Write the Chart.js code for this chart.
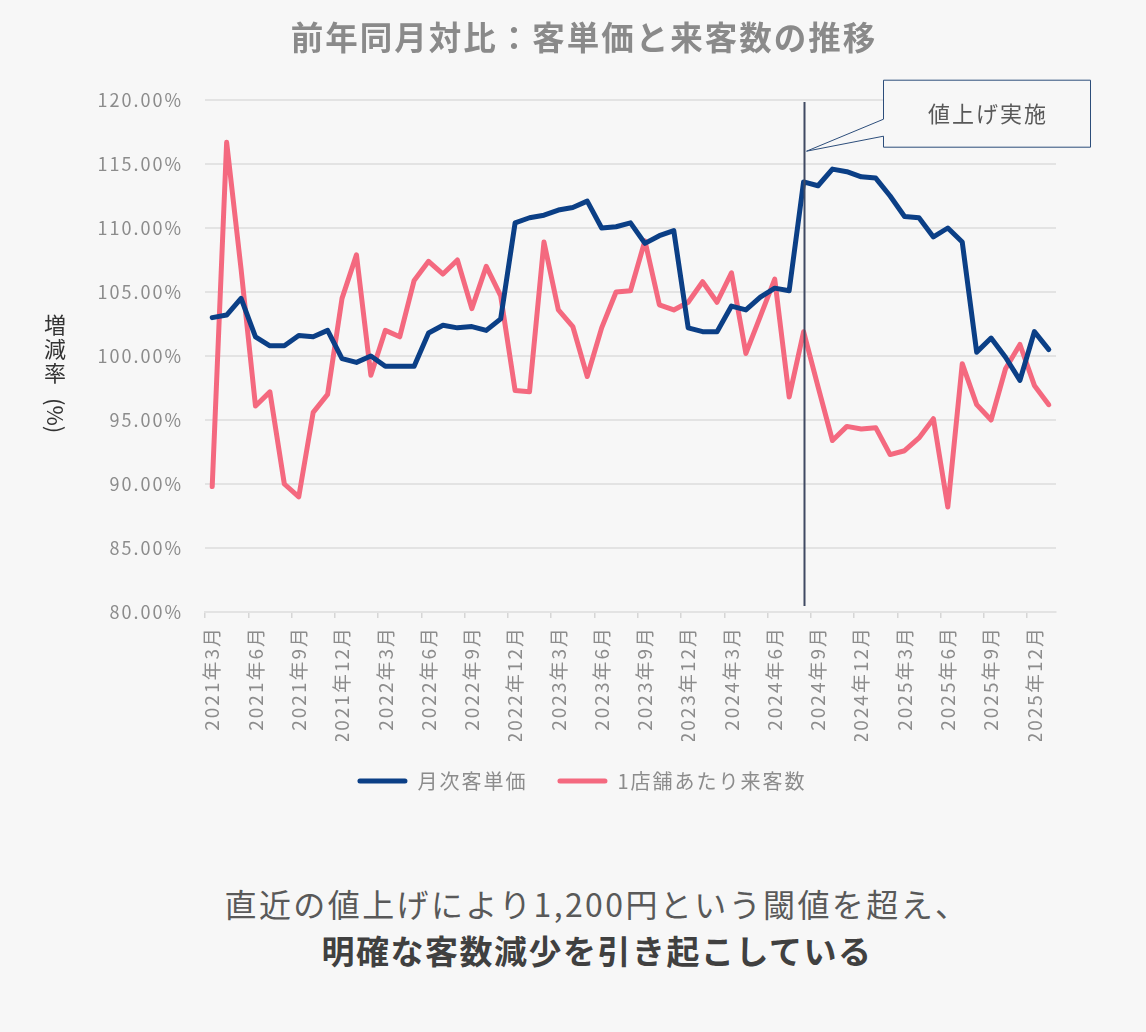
<!DOCTYPE html>
<html lang="ja">
<head>
<meta charset="utf-8">
<title>前年同月対比：客単価と来客数の推移</title>
<script src="https://cdn.jsdelivr.net/npm/chart.js@4.4.1/dist/chart.umd.min.js"></script>
<style>
  html, body { margin: 0; padding: 0; background: #f7f7f7; }
  body { width: 1146px; height: 1032px; position: relative; overflow: hidden;
         font-family: 'Noto Sans CJK JP', 'Noto Sans', sans-serif; }
  #chartBox { position: absolute; left: 0; top: 0; width: 1146px; height: 811px; }
  #summary { position: absolute; left: 0; top: 880px; width: 1146px; box-sizing: border-box;
             padding-left: 48px; text-align: center; font-size: 32px; line-height: 47px;
             color: #595959; letter-spacing: 2.4px; }
  #summary b { color: #404040; font-size: 33px; letter-spacing: 1.5px; }
</style>
</head>
<body>
<div id="chartBox"><canvas id="trendChart"></canvas></div>
<div id="summary">直近の値上げにより1,200円という閾値を超え、<br><b>明確な客数減少を引き起こしている</b></div>

<script>
// --- データ ---
const months = [
  '2021年3月', '2021年4月', '2021年5月', '2021年6月', '2021年7月', '2021年8月', '2021年9月', '2021年10月', '2021年11月', '2021年12月',
  '2022年1月', '2022年2月', '2022年3月', '2022年4月', '2022年5月', '2022年6月', '2022年7月', '2022年8月', '2022年9月', '2022年10月', '2022年11月', '2022年12月',
  '2023年1月', '2023年2月', '2023年3月', '2023年4月', '2023年5月', '2023年6月', '2023年7月', '2023年8月', '2023年9月', '2023年10月', '2023年11月', '2023年12月',
  '2024年1月', '2024年2月', '2024年3月', '2024年4月', '2024年5月', '2024年6月', '2024年7月', '2024年8月', '2024年9月', '2024年10月', '2024年11月', '2024年12月',
  '2025年1月', '2025年2月', '2025年3月', '2025年4月', '2025年5月', '2025年6月', '2025年7月', '2025年8月', '2025年9月', '2025年10月', '2025年11月', '2025年12月',
  '2026年1月'
];

// 月次客単価（前年同月比 %）
const unitPrice = [
  103.0, 103.2, 104.5, 101.5, 100.8, 100.8, 101.6, 101.5, 102.0, 99.8,
  99.5, 100.0, 99.2, 99.2, 99.2, 101.8, 102.4, 102.2, 102.3, 102.0,
  102.9, 110.4, 110.8, 111.0, 111.4, 111.6, 112.1, 110.0, 110.1, 110.4,
  108.8, 109.4, 109.8, 102.2, 101.9, 101.9, 103.9, 103.6, 104.6, 105.3,
  105.1, 113.6, 113.3, 114.6, 114.4, 114.0, 113.9, 112.5, 110.9, 110.8,
  109.3, 110.0, 108.9, 100.3, 101.4, 99.9, 98.1, 101.9, 100.5
];

// 1店舗あたり来客数（前年同月比 %）
const visitors = [
  89.8, 116.7, 106.8, 96.1, 97.2, 90.0, 89.0, 95.6, 97.0, 104.5,
  107.9, 98.5, 102.0, 101.5, 105.9, 107.4, 106.4, 107.5, 103.7, 107.0,
  104.7, 97.3, 97.2, 108.9, 103.6, 102.3, 98.4, 102.2, 105.0, 105.1,
  109.0, 104.0, 103.6, 104.2, 105.8, 104.2, 106.5, 100.2, 103.1, 106.0,
  96.8, 101.9, 97.6, 93.4, 94.5, 94.3, 94.4, 92.3, 92.6, 93.6,
  95.1, 88.2, 99.4, 96.2, 95.0, 99.0, 100.9, 97.7, 96.2
];

const yTicks = [80, 85, 90, 95, 100, 105, 110, 115, 120];
const priceUpMonth = '2024年8月';
const priceUpLabel = '値上げ実施';

const seriesNames = ['月次客単価', '1店舗あたり来客数'];
const seriesColors = ['#0b3f86', '#f4697f'];

// --- 描画 ---
Chart.defaults.font.family = "'Noto Sans CJK JP', 'Noto Sans', sans-serif";

const GRID = '#e3e3e3';
const TICK_TEXT = '#8c8c8c';

// 元図の文字間隔に合わせる（canvasのサイズ変更で状態が消えるので毎回設定）
const spacingPlugin = {
  id: 'spacing',
  beforeUpdate(chart) { chart.ctx.letterSpacing = '2px'; },
  afterLayout(chart) {
    // 凡例を元図と同じ位置（少し右寄り）へ
    chart.legend.left += 9;
    chart.legend.right += 9;
  },
  beforeDraw(chart) { chart.ctx.letterSpacing = '2px'; }
};

// タイトル・縦書きの軸タイトル・値上げ線と吹き出し
const overlayPlugin = {
  id: 'overlay',
  afterDatasetsDraw(chart) {
    const ctx = chart.ctx;
    const xs = chart.scales.x;
    const ys = chart.scales.y;
    const area = chart.chartArea;
    const idx = months.indexOf(priceUpMonth);
    const lx = Math.round(xs.getPixelForValue(idx)) + 0.5;

    ctx.save();
    // 値上げ実施の縦線
    ctx.strokeStyle = '#404a63';
    ctx.lineWidth = 2;
    ctx.beginPath();
    ctx.moveTo(lx, area.top + 2);
    ctx.lineTo(lx, area.bottom - 6);
    ctx.stroke();

    // 吹き出し
    const tipX = lx + 2;
    const tipY = ys.getPixelForValue(116);
    const bx = tipX + 77, by = tipY - 71, bw = 207, bh = 67;
    ctx.beginPath();
    ctx.moveTo(bx, by);
    ctx.lineTo(bx + bw, by);
    ctx.lineTo(bx + bw, by + bh);
    ctx.lineTo(bx, by + bh);
    ctx.lineTo(bx, by + 56);
    ctx.lineTo(tipX, tipY);
    ctx.lineTo(bx, by + 39);
    ctx.closePath();
    ctx.fillStyle = '#f7f7f7';
    ctx.fill();
    ctx.strokeStyle = '#2c4d7a';
    ctx.lineWidth = 1;
    ctx.stroke();

    ctx.fillStyle = '#595959';
    ctx.font = "22px 'Noto Sans CJK JP', sans-serif";
    ctx.textAlign = 'center';
    ctx.textBaseline = 'middle';
    ctx.fillText(priceUpLabel, bx + bw / 2 + 1, by + 33);
    ctx.restore();
  },
  afterDraw(chart) {
    const ctx = chart.ctx;
    ctx.save();
    // グラフタイトル
    ctx.fillStyle = '#8a8a8a';
    ctx.font = "bold 32.5px 'Noto Sans CJK JP', sans-serif";
    ctx.textAlign = 'center';
    ctx.textBaseline = 'middle';
    ctx.fillText('前年同月対比：客単価と来客数の推移', 584, 38);

    // 縦軸タイトル（縦書き）
    ctx.fillStyle = '#333333';
    ctx.font = "22px 'Noto Sans CJK JP', sans-serif";
    ctx.letterSpacing = '0px';
    const chars = ['増', '減', '率'];
    chars.forEach((c, i) => ctx.fillText(c, 55, 325 + i * 24));
    ctx.translate(55, 398);
    ctx.rotate(Math.PI / 2);
    ctx.textAlign = 'left';
    ctx.fillText('(%)', 0, 0);
    ctx.restore();
  }
};

new Chart(document.getElementById('trendChart'), {
  type: 'line',
  data: {
    labels: months,
    datasets: [
      {
        label: seriesNames[0],
        data: unitPrice,
        borderColor: seriesColors[0],
        backgroundColor: seriesColors[0],
        borderWidth: 5,
        pointRadius: 0,
        tension: 0,
        borderJoinStyle: 'round',
        borderCapStyle: 'round'
      },
      {
        label: seriesNames[1],
        data: visitors,
        borderColor: seriesColors[1],
        backgroundColor: seriesColors[1],
        borderWidth: 5,
        pointRadius: 0,
        tension: 0,
        borderJoinStyle: 'round',
        borderCapStyle: 'round'
      }
    ]
  },
  options: {
    responsive: true,
    maintainAspectRatio: false,
    animation: false,
    layout: { padding: { top: 100, left: 90, right: 90, bottom: 10 } },
    scales: {
      x: {
        offset: true,
        grid: {
          offset: true,
          drawOnChartArea: false,
          drawTicks: true,
          tickLength: 6,
          lineWidth: 1.5,
          color: ctx => (ctx.index !== undefined && ctx.index % 3 === 0) ? '#d6d6d6' : 'rgba(0,0,0,0)'
        },
        border: { display: true, color: GRID, width: 2 },
        ticks: {
          autoSkip: false,
          minRotation: 90,
          maxRotation: 90,
          padding: 8,
          color: TICK_TEXT,
          font: { size: 19 },
          callback: function(value, index) {
            return index % 3 === 0 ? this.getLabelForValue(value) : '';
          }
        },
        afterFit: scale => { scale.height = 129; }
      },
      y: {
        min: yTicks[0],
        max: yTicks[yTicks.length - 1],
        afterBuildTicks: scale => { scale.ticks = yTicks.map(v => ({ value: v })); },
        grid: { color: GRID, lineWidth: 2, drawTicks: false },
        border: { display: false },
        ticks: {
          padding: 22,
          color: TICK_TEXT,
          font: { size: 18 },
          callback: v => v.toFixed(2) + '%'
        },
        afterFit: scale => { scale.width = 115; }
      }
    },
    plugins: {
      title: { display: false },
      tooltip: { enabled: false },
      legend: {
        position: 'bottom',
        labels: {
          boxWidth: 50,
          boxHeight: 5,
          padding: 30,
          color: TICK_TEXT,
          font: { size: 20 },
          useBorderRadius: true,
          borderRadius: 2.5,
          generateLabels: chart => chart.data.datasets.map((ds, i) => ({
            text: ds.label,
            fillStyle: ds.borderColor,
            strokeStyle: ds.borderColor,
            lineWidth: 0,
            borderRadius: 2.5,
            hidden: false,
            datasetIndex: i,
            fontColor: TICK_TEXT
          }))
        }
      }
    }
  },
  plugins: [spacingPlugin, overlayPlugin]
});
</script>
</body>
</html>
